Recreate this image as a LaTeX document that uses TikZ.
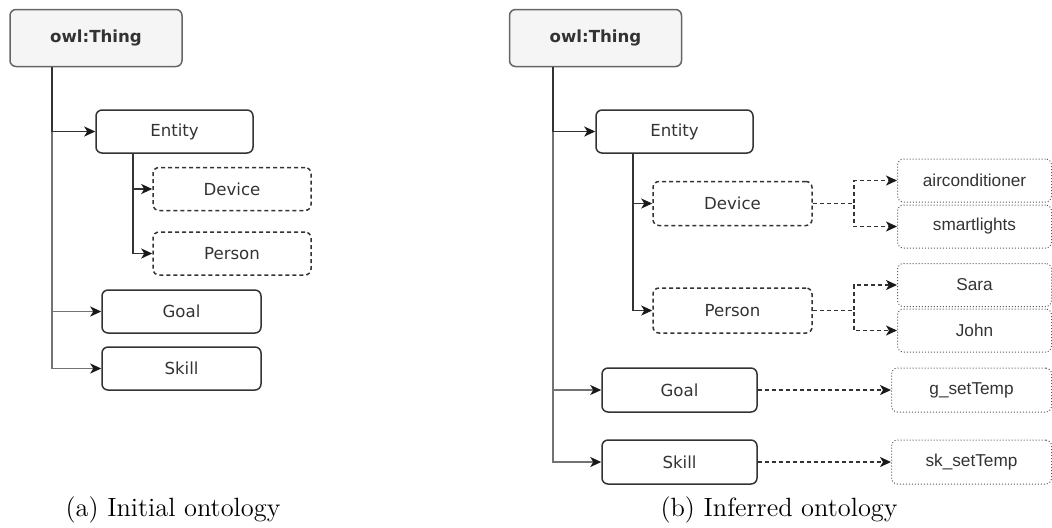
\documentclass[tikz,border=0pt]{standalone}
\usepackage{fontspec}
\newfontfamily\boxfont{DejaVu Sans}
\newfontfamily\instfont{Liberation Sans}
\usetikzlibrary{arrows.meta,positioning,calc}
\definecolor{boxtext}{HTML}{333333}
\definecolor{thingfill}{HTML}{F5F5F5}
\definecolor{thingline}{HTML}{666666}

\begin{document}
\begin{tikzpicture}[x=0.5pt, y=-0.5pt,
    cls/.style={draw=black!80, line width=0.75pt, rounded corners=3pt, text=boxtext,
        font=\boxfont\fontsize{8.3}{10}\selectfont, inner sep=0pt,
        minimum width=78.5pt, minimum height=21.5pt},
    thing/.style={cls, fill=thingfill, draw=thingline,
        font=\boxfont\bfseries\fontsize{8.3}{10}\selectfont,
        minimum width=86pt, minimum height=28.5pt},
    dcls/.style={cls, dash pattern=on 2pt off 1.5pt},
    inst/.style={draw=black!65, densely dotted, line width=0.5pt, rounded corners=3pt,
        text=boxtext, font=\instfont\fontsize{8.6}{10}\selectfont, inner sep=0pt,
        minimum width=77pt, minimum height=21.5pt},
    conn/.style={draw=black!80, line width=0.8pt,
        -{Stealth[length=5.5pt, width=5pt, inset=1.5pt, color=black!90]}},
    gconn/.style={conn, draw=black!55},
    iconn/.style={conn, dash pattern=on 2pt off 1.5pt},
    capt/.style={font=\fontsize{13.2}{16}\selectfont}]
    \useasboundingbox (0,0) rectangle (1052,527);

    % (a) initial ontology
    \node[thing] (thingA) at (96,38) {owl:Thing};
    \node[cls] (entA) at (174.5,131.5) {Entity};
    \node[dcls, minimum width=79pt] (devA) at (232,189) {Device};
    \node[dcls, minimum width=79pt] (perA) at (232,253.5) {Person};
    \node[cls, minimum width=79.5pt] (goalA) at (181.5,311.5) {Goal};
    \node[cls, minimum width=79.5pt] (skillA) at (181.5,368.5) {Skill};
    \node[capt] (capA) at (173,510) {(a) Initial ontology};

    \draw[gconn] ([xshift=21.5pt]thingA.south west) |- (skillA);
    \draw[gconn] ([xshift=21.5pt]thingA.south west) |- (goalA);
    \draw[conn] ([xshift=21.5pt]thingA.south west) |- (entA);
    \draw[conn] ([xshift=19pt]entA.south west) |- (devA);
    \draw[conn] ([xshift=19pt]entA.south west) |- (perA);

    % (b) inferred ontology
    \node[thing] (thingB) at (595.5,38) {owl:Thing};
    \node[cls] (entB) at (674.5,131.5) {Entity};
    \node[dcls, minimum width=79.5pt, minimum height=22pt] (devB) at (732.5,203.5) {Device};
    \node[dcls, minimum width=79.5pt, minimum height=22.5pt] (perB) at (732.5,310.5) {Person};
    \node[cls, minimum width=77.5pt, minimum height=22pt] (goalB) at (679.5,390) {Goal};
    \node[cls, minimum width=77.5pt, minimum height=22pt] (skillB) at (679.5,462) {Skill};

    % individuals
    \node[inst] (airc) at (974.5,180.5) {airconditioner};
    \node[inst] (smart) at (974.5,226.5) {smartlights};
    \node[inst] (sara) at (974.5,285) {Sara};
    \node[inst] (john) at (974.5,330.5) {John};
    \node[inst, minimum width=80pt, minimum height=22pt] (gset) at (971.5,390) {g\_setTemp};
    \node[inst, minimum width=80pt, minimum height=22pt] (skset) at (971.5,462) {sk\_setTemp};
    \node[capt] (capB) at (779,510) {(b) Inferred ontology};

    \draw[gconn] ([xshift=22pt]thingB.south west) |- (skillB);
    \draw[gconn] ([xshift=22pt]thingB.south west) |- (goalB);
    \draw[conn] ([xshift=22pt]thingB.south west) |- (entB);
    \draw[conn] ([xshift=19pt]entB.south west) |- (devB);
    \draw[conn] ([xshift=19pt]entB.south west) |- (perB);

    \draw[iconn] (devB.east) -- ++(41,0) |- (airc);
    \draw[iconn] (devB.east) -- ++(41,0) |- (smart);
    \draw[iconn] (perB.east) -- ++(41,0) |- (sara);
    \draw[iconn] (perB.east) -- ++(41,0) |- (john);
    \draw[iconn] (goalB) -- (gset);
    \draw[iconn] (skillB) -- (skset);
\end{tikzpicture}
\end{document}
